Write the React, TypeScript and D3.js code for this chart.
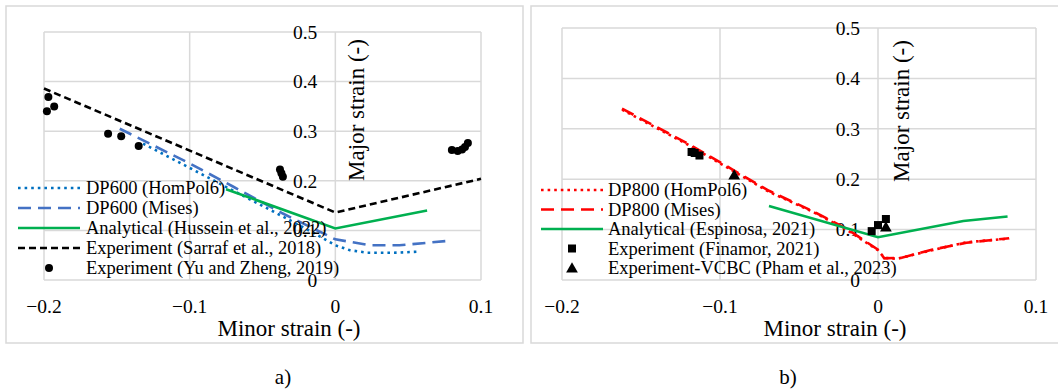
import React from "react";
import * as d3 from "d3";

// ---------- Data ----------
const xTicks = [-0.2, -0.1, 0, 0.1];
const yTicks = [0, 0.1, 0.2, 0.3, 0.4, 0.5];

// Panel a) DP600
const dp600HomPol6: [number, number][] = [
  [-0.132, 0.275], [-0.1, 0.226], [-0.07, 0.18], [-0.036, 0.128], [-0.015, 0.095],
  [0, 0.07], [0.01, 0.06], [0.022, 0.055], [0.04, 0.055], [0.057, 0.057],
];
const dp600Mises: [number, number][] = [
  [-0.148, 0.305], [-0.1, 0.235], [-0.07, 0.188], [-0.036, 0.134], [0, 0.082],
  [0.024, 0.07], [0.044, 0.07], [0.078, 0.079],
];
const husseinAnalytical: [number, number][] = [
  [-0.075, 0.183], [0, 0.104], [0.063, 0.14],
];
const sarrafExp: [number, number][] = [
  [-0.2, 0.386], [0, 0.136], [0.1, 0.204],
];
const yuZhengExp: [number, number][] = [
  [-0.197, 0.369], [-0.198, 0.34], [-0.193, 0.35], [-0.156, 0.295], [-0.147, 0.29],
  [-0.135, 0.27], [-0.038, 0.223], [-0.037, 0.215], [-0.036, 0.208],
  [0.08, 0.262], [0.084, 0.26], [0.087, 0.263], [0.089, 0.268], [0.091, 0.276],
];

// Panel b) DP800
const dp800HomPol6: [number, number][] = [
  [-0.162, 0.338], [-0.12, 0.268], [-0.069, 0.175], [-0.041, 0.135], [-0.02, 0.1],
  [0, 0.059], [0.004, 0.044], [0.012, 0.042], [0.034, 0.059], [0.056, 0.075], [0.083, 0.082],
];
const dp800Mises: [number, number][] = [
  [-0.162, 0.34], [-0.12, 0.27], [-0.069, 0.177], [-0.041, 0.136], [-0.02, 0.102],
  [0, 0.06], [0.004, 0.043], [0.015, 0.044], [0.034, 0.06], [0.056, 0.074], [0.083, 0.083],
];
const espinosaAnalytical: [number, number][] = [
  [-0.069, 0.147], [0, 0.085], [0.054, 0.117], [0.082, 0.126],
];
const finamorExp: [number, number][] = [
  [-0.118, 0.254], [-0.116, 0.252], [-0.113, 0.247], [-0.004, 0.097], [0, 0.109], [0.005, 0.121],
];
const phamVcbcExp: [number, number][] = [
  [-0.091, 0.208], [0.005, 0.105],
];

type Series = {
  name: string;
  data: [number, number][];
  kind: "line" | "dot" | "square" | "triangle";
  color: string;
  dash?: string;
  width?: number;
};

const seriesA: Series[] = [
  { name: "DP600 (HomPol6)", data: dp600HomPol6, kind: "line", color: "#0070C0", dash: "2.6 4", width: 2.6 },
  { name: "DP600 (Mises)", data: dp600Mises, kind: "line", color: "#4472C4", dash: "13 7", width: 2.6 },
  { name: "Analytical (Hussein et al., 2022)", data: husseinAnalytical, kind: "line", color: "#00B050", width: 2.6 },
  { name: "Experiment (Sarraf et al., 2018)", data: sarrafExp, kind: "line", color: "#000000", dash: "7 4", width: 2.6 },
  { name: "Experiment (Yu and Zheng, 2019)", data: yuZhengExp, kind: "dot", color: "#000000" },
];

const seriesB: Series[] = [
  { name: "DP800 (HomPol6)", data: dp800HomPol6, kind: "line", color: "#FF0000", dash: "2.6 4", width: 2.6 },
  { name: "DP800 (Mises)", data: dp800Mises, kind: "line", color: "#FF0000", dash: "13 7", width: 2.6 },
  { name: "Analytical (Espinosa, 2021)", data: espinosaAnalytical, kind: "line", color: "#00B050", width: 2.6 },
  { name: "Experiment (Finamor, 2021)", data: finamorExp, kind: "square", color: "#000000" },
  { name: "Experiment-VCBC (Pham et al., 2023)", data: phamVcbcExp, kind: "triangle", color: "#000000" },
];

const FONT = '"Liberation Serif", "Times New Roman", Times, serif';
const GRID = "#d9d9d9";
const textStyle = { fontFamily: FONT };

type PanelProps = {
  frame: [number, number, number, number];
  plot: { x0: number; x1: number; y0: number; y1: number };
  series: Series[];
  legend: { lineX0: number; lineX1: number; textX: number; rows: number[] };
  yTitleX: number;
  yTitleY: number;
  xTitleX: number;
  caption: string;
  captionX: number;
};

function Marker({ kind, x, y }: { kind: string; x: number; y: number }) {
  if (kind === "dot") return <circle cx={x} cy={y} r={4} fill="#000" />;
  if (kind === "square") return <rect x={x - 4} y={y - 4} width={8} height={8} fill="#000" />;
  if (kind === "triangle") {
    const p = d3.symbol().type(d3.symbolTriangle).size(60)();
    return <path d={p || ""} transform={`translate(${x},${y + 1})`} fill="#000" />;
  }
  return null;
}

function Panel(p: PanelProps) {
  const xs = d3.scaleLinear().domain([-0.2, 0.1]).range([p.plot.x0, p.plot.x1]);
  const ys = d3.scaleLinear().domain([0, 0.5]).range([p.plot.y1, p.plot.y0]);
  const line = d3.line<[number, number]>().x((d) => xs(d[0])).y((d) => ys(d[1]));
  const [fx, fy, fw, fh] = p.frame;
  return (
    <g>
      <rect x={fx} y={fy} width={fw} height={fh} fill="#fff" stroke={GRID} strokeWidth={1.5} />
      {yTicks.map((t) => (
        <line key={"gy" + t} x1={p.plot.x0} x2={p.plot.x1} y1={ys(t)} y2={ys(t)} stroke={GRID} strokeWidth={1.5} />
      ))}
      {xTicks.map((t) => (
        <line key={"gx" + t} x1={xs(t)} x2={xs(t)} y1={p.plot.y0} y2={p.plot.y1} stroke={GRID} strokeWidth={1.5} />
      ))}
      {yTicks.map((t) => (
        <text key={"ly" + t} x={xs(0) - 18} y={ys(t)} dy="0.35em" textAnchor="end" fontSize={19.5} style={textStyle} fill="#000">
          {d3.format("")(t)}
        </text>
      ))}
      {xTicks.map((t) => (
        <text key={"lx" + t} x={xs(t)} y={306} dy="0.35em" textAnchor="middle" fontSize={19.5} style={textStyle} fill="#000">
          {d3.format("")(t)}
        </text>
      ))}
      <text x={p.xTitleX} y={328} dy="0.35em" textAnchor="middle" fontSize={23} style={textStyle} fill="#000">
        Minor strain (-)
      </text>
      <text
        x={0}
        y={0}
        transform={`translate(${p.yTitleX},${p.yTitleY}) rotate(-90)`}
        dy="0.35em"
        textAnchor="middle"
        fontSize={23}
        style={textStyle}
        fill="#000"
      >
        Major strain (-)
      </text>
      {p.series.map((s) =>
        s.kind === "line" ? (
          <path
            key={s.name}
            d={line(s.data) || ""}
            fill="none"
            stroke={s.color}
            strokeWidth={s.width}
            strokeDasharray={s.dash}
          />
        ) : (
          <g key={s.name}>
            {s.data.map((d, i) => (
              <Marker key={i} kind={s.kind} x={xs(d[0])} y={ys(d[1])} />
            ))}
          </g>
        )
      )}
      {p.series.map((s, i) => {
        const y = p.legend.rows[i];
        return (
          <g key={"lg" + s.name}>
            {s.kind === "line" ? (
              <line
                x1={p.legend.lineX0}
                x2={p.legend.lineX1}
                y1={y}
                y2={y}
                stroke={s.color}
                strokeWidth={s.width}
                strokeDasharray={s.dash}
              />
            ) : (
              <Marker kind={s.kind} x={(p.legend.lineX0 + p.legend.lineX1) / 2} y={y} />
            )}
            <text x={p.legend.textX} y={y} dy="0.35em" fontSize={18.5} style={textStyle} fill="#000">
              {s.name}
            </text>
          </g>
        );
      })}
      <text x={p.captionX} y={377} dy="0.35em" textAnchor="middle" fontSize={21} style={textStyle} fill="#000">
        {p.caption}
      </text>
    </g>
  );
}

export default function App() {
  return (
    <svg
      width={1058}
      height={389}
      style={{ position: "absolute", left: 0, top: 0, background: "#fff" }}
    >
      <rect x={0} y={0} width={1058} height={389} fill="#fff" />
      <Panel
        frame={[6, 6, 517, 337]}
        plot={{ x0: 44, x1: 481, y0: 32, y1: 280 }}
        series={seriesA}
        legend={{ lineX0: 18, lineX1: 80, textX: 86, rows: [188, 208, 228, 248, 268] }}
        yTitleX={356}
        yTitleY={110}
        xTitleX={289}
        caption="a)"
        captionX={283}
      />
      <Panel
        frame={[531, 6, 540, 337]}
        plot={{ x0: 562, x1: 1036, y0: 28, y1: 280 }}
        series={seriesB}
        legend={{ lineX0: 541, lineX1: 603, textX: 608, rows: [190, 209.5, 229, 248.5, 268] }}
        yTitleX={901}
        yTitleY={111}
        xTitleX={835}
        caption="b)"
        captionX={788}
      />
    </svg>
  );
}
